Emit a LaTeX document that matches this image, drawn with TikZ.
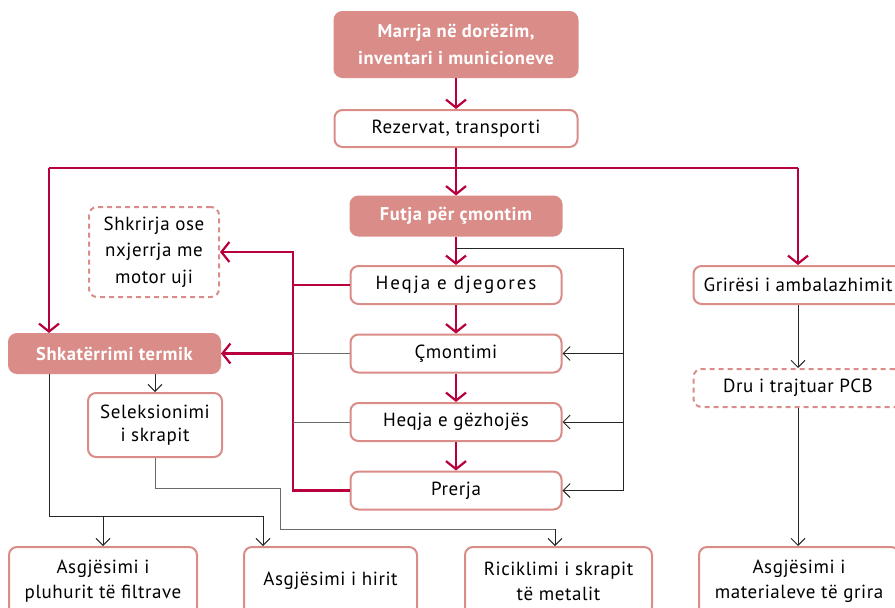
\documentclass[tikz,border=0pt]{standalone}
\usepackage{fontspec}
\setmainfont{PT Sans}[LetterSpace=3]
\usepackage{tikz}
\usetikzlibrary{arrows.meta}

\definecolor{rosa}{HTML}{D98C88}
\definecolor{kuq}{HTML}{B8003D}
\definecolor{hiri}{HTML}{6A6A6A}

\begin{document}
\begin{tikzpicture}[x=1pt,y=-1pt,
    box/.style={draw=rosa,line width=2pt,rounded corners=8pt,fill=white,align=center,inner sep=0pt,font=\fontsize{19}{25}\selectfont},
    full/.style={box,fill=rosa,text=white,font=\fontsize{18.5}{27}\selectfont\bfseries},
    broken/.style={box,dash pattern=on 5pt off 4pt},
    main/.style={draw=kuq,line width=2.2pt},
    mainarrow/.style={main,-{Straight Barb[length=8pt,width=20pt]}},
    holl/.style={draw=black!85,line width=0.9pt},
    hollarrow/.style={holl,-{Straight Barb[length=7pt,width=14pt,line width=0.9pt]}},
    gri/.style={draw=hiri,line width=0.9pt}]

    \useasboundingbox (0,0) rectangle (895,608);

    % qendra
    \node[full,minimum width=243pt,minimum height=65pt]  (marrja)   at (456,44.5) {Marrja në dorëzim,\\inventari i municioneve};
    \node[box,minimum width=243pt,minimum height=37pt]   (rezervat) at (456,128.5) {Rezervat, transporti};
    \node[full,minimum width=211pt,minimum height=39pt]  (futja)    at (456,216) {Futja për çmontim};
    \node[box,minimum width=211pt,minimum height=38pt]   (djegore)  at (456,285) {\addfontfeature{LetterSpace=10}Heqja e djegores};
    \node[box,minimum width=211pt,minimum height=38pt]   (cmontimi) at (456,353.5) {Çmontimi};
    \node[box,minimum width=211pt,minimum height=38pt]   (gezhoja)  at (456,422) {Heqja e gëzhojës};
    \node[box,minimum width=211pt,minimum height=38pt]   (prerja)   at (456,490.5) {Prerja};

    % majtas
    \node[broken,minimum width=130pt,minimum height=90pt,font=\fontsize{19}{26.5}\selectfont] (shkrirja) at (154,252) {Shkrirja ose\\nxjerrja me\\motor uji};
    \node[full,minimum width=211pt,minimum height=39pt]   (termik)   at (114.5,353.5) {Shkatërrimi termik};
    \node[box,minimum width=134pt,minimum height=64pt,font=\fontsize{19}{23}\selectfont] (seleksion) at (155,425) {Seleksionimi\\i skrapit};

    % djathtas
    \node[box,minimum width=209pt,minimum height=38pt]    (grirea)   at (798,285) {Grirësi i ambalazhimit};
    \node[broken,minimum width=209pt,minimum height=38pt] (pcb)      at (798,388) {Dru i trajtuar PCB};

    % poshte
    \node[box,minimum width=188pt,minimum height=68pt] (pluhuri)   at (103,581) {Asgjësimi i\\pluhurit të filtrave};
    \node[box,minimum width=173pt,minimum height=68pt] (hirin)     at (330.5,581) {Asgjësimi i hirit};
    \node[box,minimum width=187pt,minimum height=68pt] (riciklimi) at (558.5,581) {Riciklimi i skrapit\\të metalit};
    \node[box,minimum width=200pt,minimum height=68pt] (materiale) at (799,581) {Asgjësimi i\\materialeve të grira};

    % pikat e degezimit
    \coordinate (majtas) at (49,168);
    \coordinate (djathtas) at (798,168);
    \coordinate (shtylla) at (293,252);
    \coordinate (lak) at (456,248);
    \coordinate (kthim) at (623,248);
    \coordinate (zbritja) at (49,516);
    \coordinate (hiridrop) at (263,516);
    \coordinate (hapi) at (280,488);
    \coordinate (hapi2) at (280,529);
    \coordinate (metal) at (555,529);

    % rrjedha kryesore
    \draw[mainarrow] (marrja) -- (rezervat);
    \draw[mainarrow] (rezervat) -- (futja);
    \draw[main] (majtas) -- (djathtas);
    \draw[mainarrow] (majtas) -- (majtas |- termik.north);
    \draw[mainarrow] (djathtas) -- (grirea.north);
    \draw[mainarrow] (futja) -- (djegore);
    \draw[mainarrow] (djegore) -- (cmontimi);
    \draw[mainarrow] (cmontimi) -- (gezhoja);
    \draw[mainarrow] (gezhoja) -- (prerja);

    % dalje ne te majte
    \draw[mainarrow] (djegore.west) -- (shtylla |- djegore.west) -- (shtylla) -- (shkrirja.east);
    \draw[main] (shtylla |- djegore.west) -- (shtylla |- prerja.west) -- (prerja.west);
    \draw[mainarrow] (shtylla |- termik.east) -- (termik.east);
    \draw[gri] (cmontimi.west) -- (shtylla |- cmontimi.west);
    \draw[gri] (gezhoja.west) -- (shtylla |- gezhoja.west);

    % kthimi
    \draw[holl] (lak) -- (kthim) -- (kthim |- prerja.east);
    \draw[hollarrow] (kthim |- cmontimi.east) -- (cmontimi.east);
    \draw[hollarrow] (kthim |- gezhoja.east) -- (gezhoja.east);
    \draw[hollarrow] (kthim |- prerja.east) -- (prerja.east);

    % mbetjet
    \draw[hollarrow] (seleksion.north |- termik.south) -- (seleksion.north);
    \draw[holl] (majtas |- termik.south) -- (zbritja) -- (hiridrop);
    \draw[hollarrow] (zbritja -| pluhuri.north) -- (pluhuri.north);
    \draw[hollarrow] (hiridrop) -- (hiridrop |- hirin.north);
    \draw[gri] (seleksion.south) -- (seleksion.south |- hapi) -- (hapi) -- (hapi2) -- (metal);
    \draw[hollarrow] (metal) -- (metal |- riciklimi.north);
    \draw[hollarrow] (grirea) -- (pcb);
    \draw[hollarrow] (pcb) -- (pcb |- materiale.north);
\end{tikzpicture}
\end{document}
